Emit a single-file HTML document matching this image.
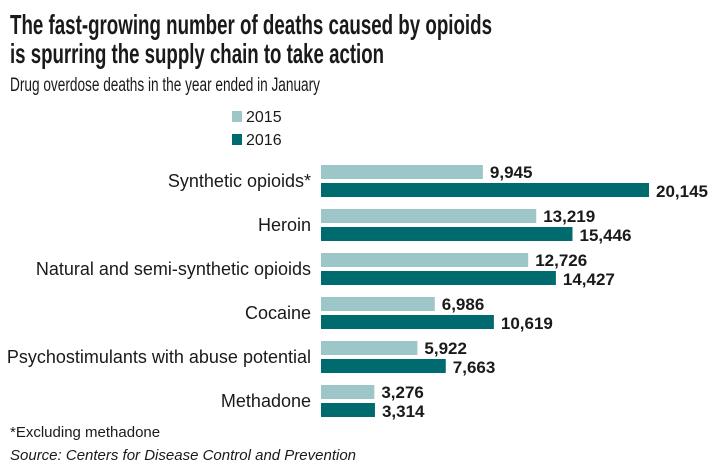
<!DOCTYPE html>
<html><head><meta charset="utf-8"><style>
body{margin:0;background:#fff;}
svg{display:block;font-family:"Liberation Sans",Arial,sans-serif;}
</style></head><body>
<svg id="chart" width="720" height="473" viewBox="0 0 720 473">
<text x="10" y="34" font-size="28" font-weight="bold" fill="#1a1a1a" textLength="482" lengthAdjust="spacingAndGlyphs">The fast-growing number of deaths caused by opioids</text>
<text x="10" y="63" font-size="28" font-weight="bold" fill="#1a1a1a" textLength="374" lengthAdjust="spacingAndGlyphs">is spurring the supply chain to take action</text>
<text x="10" y="91" font-size="19" fill="#1a1a1a" textLength="310" lengthAdjust="spacingAndGlyphs">Drug overdose deaths in the year ended in January</text>
<rect x="232" y="111" width="10" height="11" fill="#9dc6c8"/>
<text x="246" y="122" font-size="16" fill="#1a1a1a">2015</text>
<rect x="232" y="134" width="10" height="11" fill="#006b6e"/>
<text x="246" y="145" font-size="16" fill="#1a1a1a">2016</text>
<g id="bars"></g>
<text x="10" y="437" font-size="15" fill="#1a1a1a">*Excluding methadone</text>
<text x="10" y="460" font-size="15" font-style="italic" fill="#1a1a1a">Source: Centers for Disease Control and Prevention</text>
</svg>
<script>
const categories = ["Synthetic opioids*","Heroin","Natural and semi-synthetic opioids","Cocaine","Psychostimulants with abuse potential","Methadone"];
const values2015 = [9945,13219,12726,6986,5922,3276];
const values2016 = [20145,15446,14427,10619,7663,3314];

const x0 = 321, pxPerUnit = 328/20145;
const xScale = v => x0 + v*pxPerUnit;
const groupTop = i => 165 + i*44;
const NS = "http://www.w3.org/2000/svg";
const g = document.getElementById('bars');
const fmt = v => v.toLocaleString('en-US');
function mk(tag, attrs){const e=document.createElementNS(NS,tag);for(const k in attrs)e.setAttribute(k,attrs[k]);g.appendChild(e);return e;}
categories.forEach((c,i)=>{
  const y=groupTop(i);
  const lab=mk('text',{x:311,y:y+22,'font-size':18,fill:'#1a1a1a','text-anchor':'end'});
  
  
  lab.textContent=c;
  const b1=mk('rect',{x:x0,y:y,width:xScale(values2015[i])-x0,height:14,fill:'#9dc6c8'});
  
  
  const b2=mk('rect',{x:x0,y:y+18,width:xScale(values2016[i])-x0,height:14,fill:'#006b6e'});
  
  
  const t1=mk('text',{x:xScale(values2015[i])+7,y:y+13,'font-size':17,'font-weight':'bold',fill:'#1a1a1a'});
  
  
  t1.textContent=fmt(values2015[i]);
  const t2=mk('text',{x:xScale(values2016[i])+7,y:y+32,'font-size':17,'font-weight':'bold',fill:'#1a1a1a'});
  
  
  t2.textContent=fmt(values2016[i]);
});
</script>
</body></html>
